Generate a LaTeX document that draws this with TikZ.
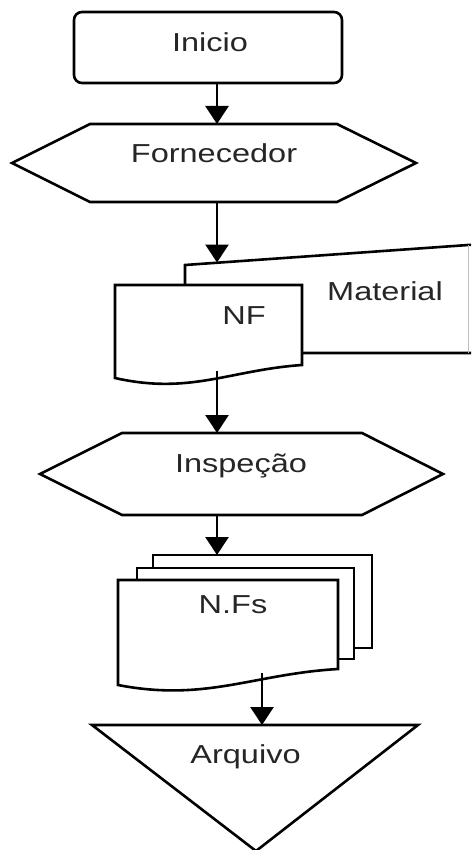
\documentclass[tikz,border=0pt]{standalone}
\usepackage{fontspec}
\setmainfont{Liberation Sans}
\usetikzlibrary{arrows.meta}

\begin{document}
\begin{tikzpicture}[x=1pt,y=-1pt,
    box/.style={draw,line width=2.6pt,fill=white},
    lbl/.style={font=\fontsize{26}{30}\selectfont,text=black!85,inner sep=0pt,anchor=base,xscale=1.25,transform shape},
    arr/.style={line width=2.6pt,-{Triangle[length=18pt,width=23pt]}}]
  \useasboundingbox (0,0) rectangle (471,850);
  % Inicio
  \node [box,rounded corners=8pt,minimum width=268pt,minimum height=71pt] (ini) at (208,47.5) {};
  \node [lbl] (iniT) at (210,52) {Inicio};
  % Fornecedor
  \draw [box] (12,163) -- (90,124) -- (337,124) -- (416,163) -- (337,202) -- (90,202) -- cycle;
  \coordinate (fornN) at (217,124);
  \coordinate (fornS) at (217,202);
  \node [lbl] (fornT) at (214,163) {Fornecedor};
  \draw [arr] (ini.south -| fornN) -- (fornN);
  % Material + NF
  \draw [line width=2.6pt] (185,285) -- (185,265) -- (471,244.8) (302,353) -- (471,353);
  \draw [black!25,line width=1pt] (468,245) -- (468,353);
  \coordinate (matN) at (217,262.5);
  \node [lbl] (matT) at (385,300) {Material};
  \draw [box] (302,365) -- (302,285) -- (115,285) -- (115,378)
    .. controls (190,395) and (230,370) .. (302,365) -- cycle;
  \coordinate (nfS) at (217,371);
  \node [lbl] (nfT) at (244,324) {NF};
  \draw [arr] (fornS) -- (matN);
  % Inspecao
  \draw [box] (40,474) -- (122,433) -- (362,433) -- (443,474) -- (362,515) -- (122,515) -- cycle;
  \coordinate (inspN) at (217,433);
  \coordinate (inspS) at (217,515);
  \node [lbl] (inspT) at (241,472) {Inspeção};
  \draw [arr] (nfS) -- (inspN);
  % N.Fs
  \draw [box] (153,555) rectangle (372,648);
  \draw [box] (137,568) rectangle (354,659);
  \draw [box] (338,669) -- (338,580) -- (118,580) -- (118,685)
    .. controls (206,702) and (253,674) .. (338,669) -- cycle;
  \coordinate (nfsN) at (217,555);
  \coordinate (nfsS) at (262,673);
  \node [lbl] (nfsT) at (233,613) {N.Fs};
  \draw [arr] (inspS) -- (nfsN);
  % Arquivo
  \draw [box] (92,725) -- (418,725) -- (256,851) -- cycle;
  \coordinate (arqN) at (262,725);
  \node [lbl] (arqT) at (245.5,763) {Arquivo};
  \draw [arr] (nfsS) -- (arqN);
\end{tikzpicture}
\end{document}
